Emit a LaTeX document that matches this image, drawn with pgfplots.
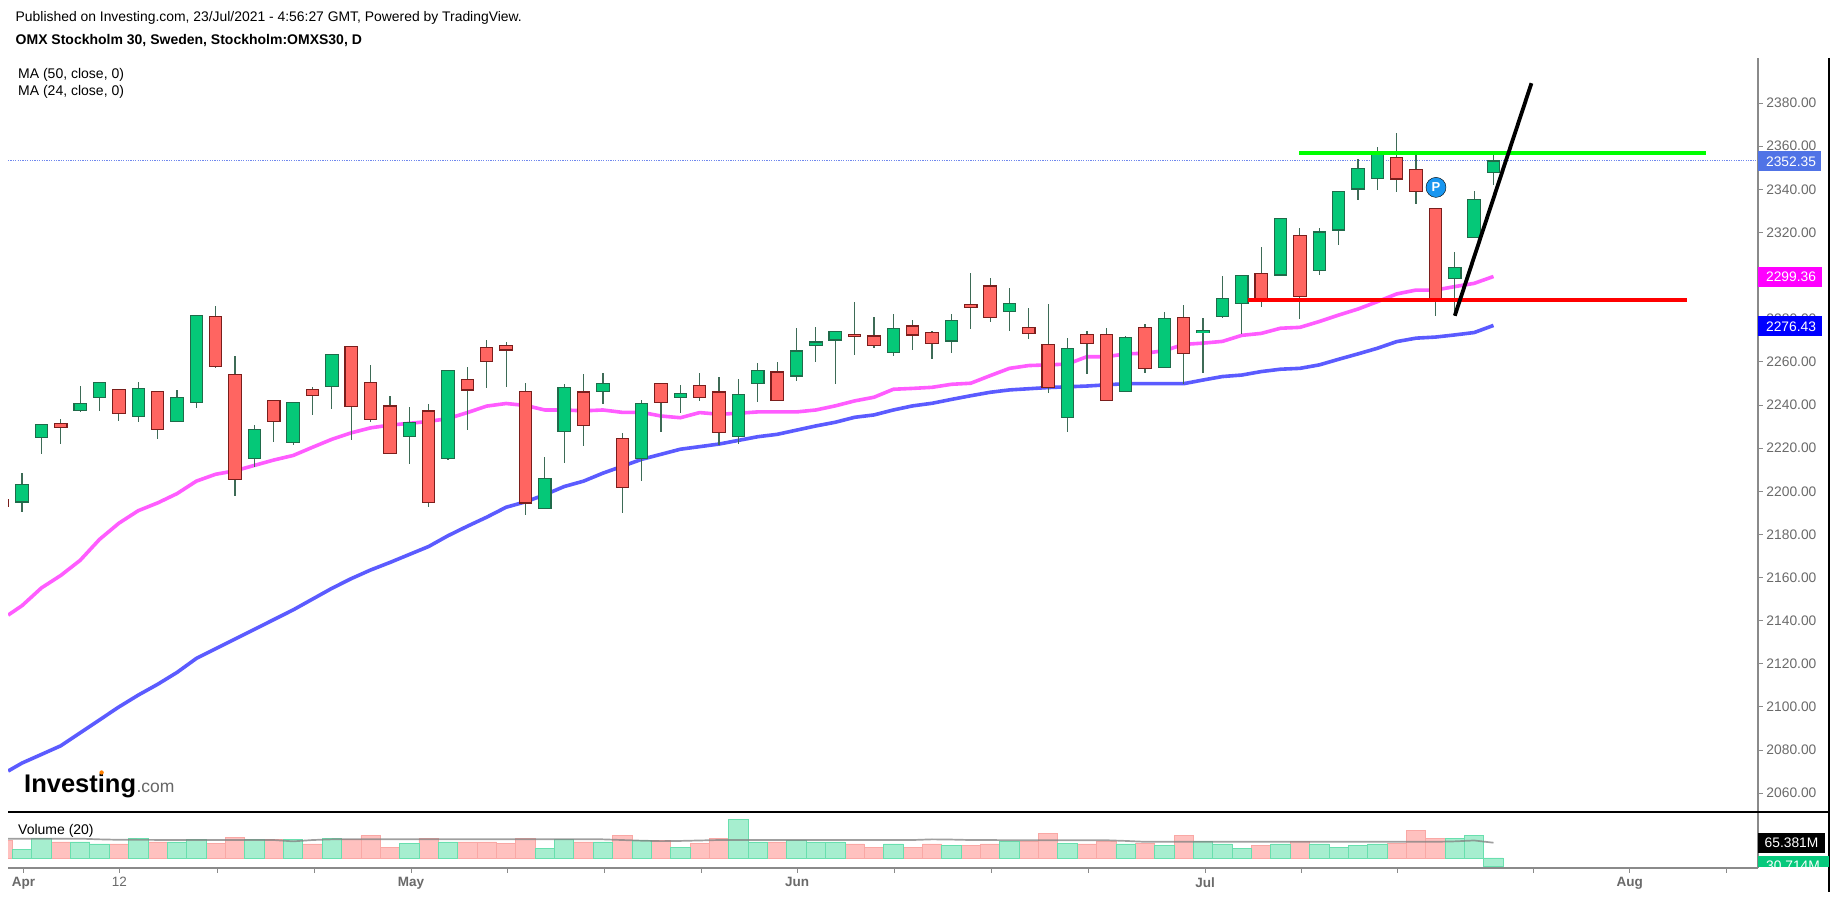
\documentclass[border=0pt]{standalone}
\usepackage{pgfplots}
\usepackage{pgfplotstable}
\usepackage{fontspec}
\setmainfont{Liberation Sans}
\pgfplotsset{compat=1.18}
\definecolor{gbody}{HTML}{05C878}
\definecolor{gline}{HTML}{1F6B4A}
\definecolor{rbody}{HTML}{FF6561}
\definecolor{rline}{HTML}{7A1E1C}
\definecolor{wick}{HTML}{3D6B56}
\definecolor{axgray}{HTML}{8A8A8A}
\definecolor{ticktxt}{HTML}{6A6A6A}
\definecolor{maM}{HTML}{FF5CFF}
\definecolor{maB}{HTML}{5B5BFF}
\definecolor{volG}{HTML}{A6EECF}
\definecolor{volGl}{HTML}{69DFAE}
\definecolor{volR}{HTML}{FFC1BF}
\definecolor{volRl}{HTML}{F9A8A5}
\definecolor{lastp}{HTML}{7088EE}
\definecolor{lvlG}{HTML}{00FF00}
\definecolor{lvlR}{HTML}{FF0000}
\definecolor{pblue}{HTML}{1896F0}
\definecolor{tagL}{HTML}{5073E6}
\definecolor{tagM}{HTML}{FF00FF}
\definecolor{tagB}{HTML}{0000FF}
\definecolor{tagG}{HTML}{06C97C}

\pgfplotstableread{
i hi top bot lo vol
0 2196.3 2196.3 2193.0 2193.0 77.1
3 2233.4 2231.5 2229.6 2221.9 71.2
6 2247.1 2247.1 2236.0 2232.4 62.3
8 2246.4 2246.4 2228.6 2224.3 71.2
11 2285.7 2281.2 2257.9 2257.2 66.7
12 2262.5 2254.1 2205.4 2197.9 93.4
14 2242.0 2242.0 2232.4 2223.0 83.0
16 2248.4 2247.1 2244.6 2235.2 62.3
18 2267.0 2267.0 2239.3 2223.6 83.0
19 2258.4 2250.6 2233.2 2231.9 99.4
20 2244.0 2239.5 2217.5 2217.5 48.9
22 2240.3 2237.2 2194.8 2192.5 87.5
24 2257.7 2251.7 2247.0 2228.2 71.2
25 2270.1 2266.8 2260.2 2248.1 71.2
26 2269.3 2267.5 2265.5 2248.4 66.7
27 2250.2 2246.4 2194.6 2188.8 87.5
30 2254.2 2246.0 2230.7 2220.8 71.2
32 2226.9 2224.4 2201.8 2190.1 99.4
34 2250.1 2250.1 2241.1 2227.7 77.1
36 2254.7 2249.0 2243.6 2242.0 66.7
37 2253.2 2246.0 2227.4 2221.5 87.5
40 2260.1 2255.3 2242.3 2242.3 71.2
44 2287.9 2272.6 2271.9 2263.0 62.3
45 2281.0 2272.0 2267.8 2266.6 48.9
47 2279.4 2276.6 2272.5 2265.4 48.9
48 2274.2 2273.7 2268.5 2261.2 62.3
50 2301.1 2286.5 2285.3 2275.3 54.9
51 2298.8 2295.2 2280.7 2278.7 62.3
53 2284.8 2276.0 2273.1 2270.6 72.7
54 2286.7 2268.0 2248.2 2245.7 109.7
56 2274.5 2272.6 2268.5 2254.4 62.3
57 2275.6 2272.6 2242.3 2242.3 72.7
59 2277.4 2276.0 2256.9 2255.0 66.7
61 2286.5 2280.7 2263.8 2249.9 99.4
65 2313.4 2301.1 2289.2 2285.6 54.9
67 2321.9 2318.4 2290.2 2279.9 72.7
72 2366.0 2354.9 2344.8 2338.8 66.7
73 2356.4 2349.1 2339.0 2333.0 123.1
74 2331.0 2331.0 2288.2 2281.4 87.5
}\redcandles

\pgfplotstableread{
i hi top bot lo vol
1 2208.4 2203.1 2195.1 2190.5 40.0
2 2230.9 2230.9 2224.9 2217.5 87.5
4 2248.6 2240.8 2237.5 2236.8 71.2
5 2250.9 2250.6 2243.6 2237.3 62.3
7 2250.9 2247.8 2234.7 2231.9 87.5
9 2246.8 2243.6 2232.4 2232.4 71.2
10 2281.4 2281.4 2241.1 2238.8 83.0
13 2230.7 2228.6 2215.1 2211.3 83.0
15 2241.3 2241.3 2222.6 2221.3 83.0
17 2263.3 2263.3 2248.6 2238.0 87.5
21 2239.3 2232.0 2225.4 2212.7 66.7
23 2255.9 2255.9 2215.1 2214.3 71.2
28 2216.0 2205.9 2192.1 2192.1 43.0
29 2249.6 2248.1 2227.9 2213.3 83.0
31 2254.7 2250.1 2246.3 2240.5 71.2
33 2242.3 2240.8 2215.1 2204.9 77.1
35 2249.3 2245.4 2243.4 2236.5 48.9
38 2251.9 2245.0 2225.6 2221.9 172.0
39 2259.3 2255.9 2249.9 2241.6 71.2
41 2275.7 2265.0 2253.5 2251.3 77.1
42 2276.3 2269.2 2267.8 2260.1 71.2
43 2274.5 2273.9 2270.2 2249.8 71.2
46 2282.1 2275.4 2264.4 2262.6 62.3
49 2282.1 2279.0 2269.7 2264.3 54.9
52 2294.1 2287.2 2283.5 2274.5 72.7
55 2270.9 2266.3 2234.3 2227.7 66.7
58 2272.2 2271.4 2246.4 2246.4 62.3
60 2283.3 2280.1 2257.5 2257.5 54.9
62 2280.2 2274.5 2273.6 2255.0 72.7
63 2300.0 2289.5 2281.0 2280.5 62.3
64 2300.3 2300.0 2287.0 2272.8 43.0
66 2326.6 2326.6 2300.3 2300.3 62.3
68 2321.9 2320.2 2302.5 2300.1 62.3
69 2338.9 2338.9 2321.2 2314.1 48.9
70 2353.9 2349.8 2340.2 2334.9 54.9
71 2359.8 2357.2 2345.0 2339.6 62.3
75 2310.9 2303.8 2298.6 2281.3 87.5
76 2339.4 2335.2 2317.8 2317.8 99.4
77 2357.9 2353.1 2347.9 2341.9 -38.6
}\greencandles

\newcommand{\wicks}[1]{%
  \addplot[forget plot, draw=none, mark=none,
    error bars/.cd, y dir=both, y explicit, error mark=none,
    error bar style={draw=wick, line width=1.2pt}]
    table[x=i, y=top, y error plus expr=\thisrow{hi}-\thisrow{top}, y error minus expr=\thisrow{top}-\thisrow{lo}]{#1};
}
\newcommand{\bodies}[3]{%
  \addplot[forget plot, draw=none, mark=none,
    error bars/.cd, y dir=both, y explicit, error mark=none,
    error bar style={draw=#3, line width=13.5pt}]
    table[x=i, y expr=(\thisrow{top}+\thisrow{bot})/2, y error expr={(\thisrow{top}-\thisrow{bot})/2+0.3}]{#1};
  \addplot[forget plot, draw=none, mark=none,
    error bars/.cd, y dir=both, y explicit, error mark=none,
    error bar style={draw=#2, line width=11.3pt}]
    table[x=i, y expr=(\thisrow{top}+\thisrow{bot})/2, y error expr={max((\thisrow{top}-\thisrow{bot})/2-0.25,0.01)}]{#1};
}

\begin{document}
\begin{tikzpicture}[x=1pt,y=1pt]
\useasboundingbox (0,0) rectangle (1837,897);
\path[fill=white] (0,0) rectangle (1837,897);

\begin{axis}[
  at={(8pt,85pt)}, anchor=south west,
  scale only axis, width=1750pt, height=754pt,
  xmin=0.272, xmax=90.66, ymin=2051.3, ymax=2400.9,
  axis x line=none, axis y line=right,
  axis line style={-},
  y axis line style={draw=axgray, line width=1.5pt},
  ytick={2060,2080,...,2380},
  tick align=outside,
  major tick length=5pt,
  y tick style={draw=axgray, line width=1pt},
  /pgf/number format/assume math mode=true,
  yticklabel style={/pgf/number format/fixed, /pgf/number format/fixed zerofill, /pgf/number format/precision=2, /pgf/number format/1000 sep={},
     font=\fontsize{13.8}{15}\selectfont, text=ticktxt, xshift=0pt},
]
% Moving averages
\addplot[maB, line width=3.6pt, line join=round] coordinates {
(0.28,2070.3)(1,2074)(2,2078)(3,2082)(4,2088)(5,2094)(6,2100)(7,2105.5)(8,2110.5)(9,2116)
(10,2122.5)(11,2127)(12,2131.5)(13,2136)(14,2140.5)(15,2145)(16,2150)(17,2155)(18,2159.5)(19,2163.5)
(20,2167)(21,2170.7)(22,2174.4)(23,2179.4)(24,2183.8)(25,2188)(26,2192.6)(27,2195.1)(28,2198.4)(29,2202.2)
(30,2204.7)(31,2208.4)(33,2214.8)(35,2219.5)(37,2221.9)(39,2225.3)(40,2226.4)(42,2230.3)(43,2232)(44,2234.3)
(45,2235.4)(46,2237.7)(47,2239.6)(48,2240.8)(49,2242.6)(50,2244.3)(51,2245.9)(52,2247)(54,2248.1)(56,2248.8)
(58,2249.9)(61,2249.9)(62,2251.6)(63,2253.2)(64,2253.9)(65,2255.5)(66,2256.6)(67,2257)(68,2258.6)(69,2261.2)
(70,2263.7)(71,2266.3)(72,2269.4)(73,2271)(74,2271.5)(75,2272.5)(76,2273.6)(77,2276.9)};
\addplot[maM, line width=3.6pt, line join=round] coordinates {
(0.28,2142.6)(1,2147)(2,2155.2)(3,2161)(4,2168)(5,2177.7)(6,2185.2)(7,2191)(8,2194.6)(9,2198.9)
(10,2204.7)(11,2207.9)(12,2209.5)(13,2212)(14,2214.5)(15,2216.6)(16,2220.4)(17,2224.1)(18,2227.1)(19,2229.4)
(20,2230.7)(21,2231.5)(22,2232.4)(23,2233.7)(24,2236.5)(25,2239.5)(26,2240.7)(27,2239.8)(28,2237.7)(29,2237.7)
(30,2237.3)(31,2237.7)(32,2236.6)(33,2236.6)(34,2234.9)(35,2234.1)(36,2236.5)(37,2235.7)(38,2236.2)(39,2236.8)
(40,2236.8)(41,2236.8)(42,2237.7)(43,2239.6)(44,2241.9)(45,2243.6)(46,2247.3)(47,2247.7)(48,2248.2)(49,2249.6)
(50,2250.1)(51,2253.6)(52,2257)(53,2258.3)(54,2258.6)(55,2259)(56,2262.4)(57,2262.4)(58,2263.7)(59,2264)
(60,2265.2)(61,2268.1)(62,2268.7)(63,2269.5)(64,2272.3)(65,2273.2)(66,2275.6)(67,2276)(68,2278.7)(69,2281.7)
(70,2284.5)(71,2287.9)(72,2291.5)(73,2293.3)(74,2293.3)(75,2294.9)(76,2296.4)(77,2299.6)};
% Last price line
\addplot[color=lastp, line width=1.2pt, dash pattern=on 1.2pt off 1.2pt] coordinates {(0.272,2353.2)(90.66,2353.2)};
% Candles
\wicks{\redcandles}
\wicks{\greencandles}
\bodies{\redcandles}{rbody}{rline}
\bodies{\greencandles}{gbody}{gline}
% Drawn levels
\addplot[color=lvlG, line width=4pt] coordinates {(66.97,2357)(87.97,2357)};
\addplot[color=lvlR, line width=4pt] coordinates {(64.32,2288.7)(87,2288.7)};
\addplot[black, line width=3.8pt] coordinates {(75,2281.4)(78.96,2389.2)};
\addplot[only marks, mark=*, mark size=10pt, mark options={draw=none, fill=pblue},
  nodes near coords={\textbf{P}}, nodes near coords align={center},
  every node near coord/.style={font=\fontsize{13}{15}\selectfont, text=white}] coordinates {(74.03,2340.9)};
\end{axis}

\begin{axis}[
  at={(8pt,29pt)}, anchor=south west,
  scale only axis, width=1750pt, height=56pt,
  xmin=0.272, xmax=90.66, ymin=-44.5, ymax=204.7,
  axis x line=bottom, axis y line=right,
  axis line style={-},
  x axis line style={draw=axgray, line width=1.6pt},
  y axis line style={draw=axgray, line width=1.5pt},
  ytick={0,65.381}, yticklabels={},
  xtick={1.07,6.03,11.07,16.08,21.09,26.07,31.06,36.07,41.03,46.04,51.05,56.1,62.1,67.06,72.03,79.07,84.04,89.06},
  xticklabels={\textbf{Apr},12,,,\textbf{May},,,,\textbf{Jun},,,,\textbf{Jul},,,,\textbf{Aug},},
  tick align=outside,
  major tick length=5pt,
  tick style={draw=axgray, line width=1pt},
  xticklabel style={font=\fontsize{13.5}{15}\selectfont, text=ticktxt, yshift=-1pt},
]
\addplot[ybar, bar shift=0pt, bar width=1, fill=volR, draw=volRl, line width=0.8pt] table[x=i, y=vol]{\redcandles};
\addplot[ybar, bar shift=0pt, bar width=1, fill=volG, draw=volGl, line width=0.8pt] table[x=i, y=vol]{\greencandles};
\addplot[color=black!50, opacity=0.75, line width=1.7pt] coordinates {
(0.272,86)(4,86)(5,83)(6,81)(8,80.5)(14,80)(15,74)(16,80)(17,83)(31,83)(32,80)(33,77)(34,75)(35,76)(36,78)(37,80)(47,80)(48,83)(49,82)(50,80)(51,80)(52,79)(57,79)(58,76)(59,72)(73,72)(74,72)(75,74)(76,78)(77,68)};
\end{axis}

% Frame lines
\draw[black, line width=1.7pt] (8,85) -- (1829,85);
\draw[black, line width=1.4pt] (1829,839) -- (1829,5);

% Value tags
\fill[tagL] (1758,725.5) rectangle (1821,745.5);
\node[text=white, font=\fontsize{13.8}{15}\selectfont] at (1791,735.5) {2352.35};
\fill[tagM] (1758,610) rectangle (1822,630);
\node[text=white, font=\fontsize{13.8}{15}\selectfont] at (1791,620) {2299.36};
\fill[tagB] (1758,561) rectangle (1822,581);
\node[text=white, font=\fontsize{13.8}{15}\selectfont] at (1791,570.5) {2276.43};
\fill[black] (1758,44) rectangle (1825,64);
\node[text=white, font=\fontsize{13.8}{15}\selectfont] at (1791.5,54) {65.381M};
\begin{scope}
\clip (1758,30) rectangle (1829,41.3);
\fill[tagG] (1758,30) rectangle (1829,41.3);
\node[text=white, font=\fontsize{13.8}{15}\selectfont] at (1793,31) {30.714M};
\end{scope}

% Header text
\node[anchor=west, inner sep=0pt, font=\fontsize{13.9}{15}\selectfont] at (15.5,879) {Published on Investing.com, 23/Jul/2021 - 4:56:27 GMT, Powered by TradingView.};
\node[anchor=west, inner sep=0pt, font=\fontsize{14}{15}\selectfont\bfseries] at (15.5,856) {OMX Stockholm 30, Sweden, Stockholm:OMXS30, D};
\node[anchor=west, inner sep=0pt, font=\fontsize{14}{15}\selectfont] at (18,822) {MA (50, close, 0)};
\node[anchor=west, inner sep=0pt, font=\fontsize{14}{15}\selectfont] at (18,805) {MA (24, close, 0)};
\node[anchor=west, inner sep=0pt, font=\fontsize{14}{15}\selectfont] at (18,66.5) {Volume (20)};
% Logo
\node[anchor=base west, inner sep=0pt, font=\fontsize{25.5}{27}\selectfont\bfseries] (lg) at (24,104.5) {Investing};
\node[anchor=base west, inner sep=0pt, font=\fontsize{17.5}{19}\selectfont, text=black!60] at (lg.base east) {.com};
\fill[orange] (101.6,124.5) circle (2.2);
\end{tikzpicture}
\end{document}
